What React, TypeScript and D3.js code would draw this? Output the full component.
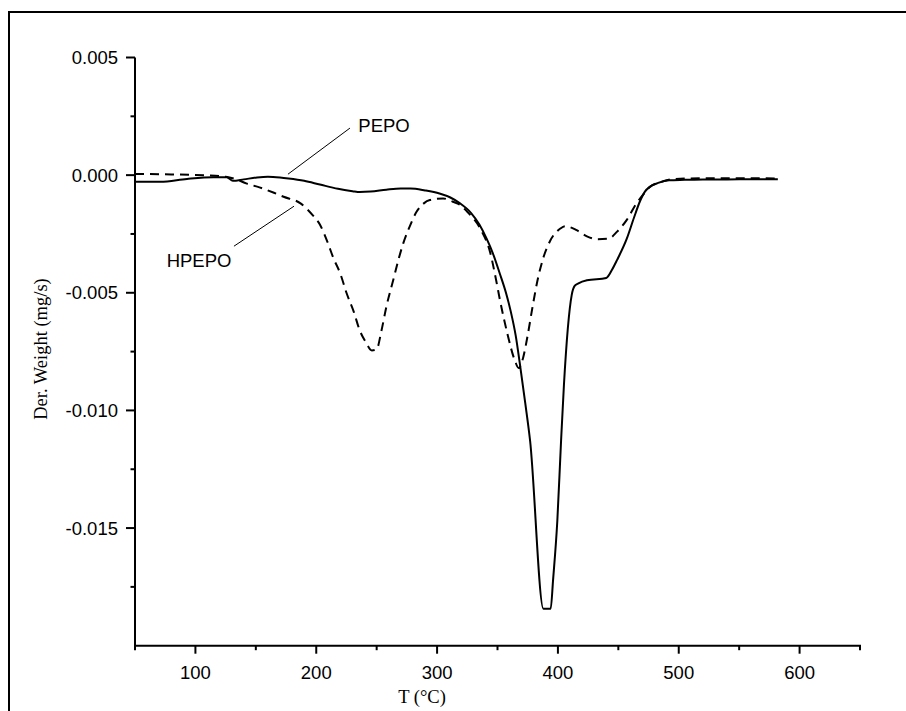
import React from "react";
import * as d3 from "d3";

// PEPO (solid) — temperature (°C) and derivative weight (mg/s)
const pepoT = [50, 71, 93, 115, 126, 131, 140, 151, 160, 170, 177, 190, 203, 218, 230, 236, 245, 258, 270, 278, 290, 302, 311, 319, 328, 335, 341, 346, 352, 357, 361, 365, 369, 373, 377, 388, 394, 396, 399.5, 402.6, 405, 411.4, 414, 417, 424, 440, 445, 449, 457, 463, 468, 472, 476, 483, 492, 505, 520, 540, 560, 582];
const pepoV = [-0.00028, -0.00028, -0.00016, -0.00009, -0.00009, -0.00024, -0.00018, -0.0001, -0.00007, -0.0001, -0.00014, -0.00024, -0.0004, -0.00058, -0.00068, -0.00072, -0.0007, -0.00062, -0.00057, -0.00057, -0.00065, -0.00078, -0.00095, -0.0012, -0.0016, -0.0021, -0.0027, -0.0033, -0.0042, -0.005, -0.0058, -0.0068, -0.0082, -0.0097, -0.0113, -0.01843, -0.01843, -0.0172, -0.0147, -0.0113, -0.0089, -0.0051, -0.0047, -0.0046, -0.00447, -0.00437, -0.004, -0.0036, -0.0027, -0.0018, -0.0011, -0.0007, -0.0005, -0.00033, -0.00022, -0.0002, -0.00018, -0.00018, -0.00017, -0.00017];

// HPEPO (dashed)
const hpepoT = [50, 80, 110, 125, 135, 142, 153, 165, 173, 187, 197, 203, 209, 214, 220, 225, 231, 236, 241, 246, 250, 254, 258, 264, 268, 272, 278, 283, 289, 294, 305, 313, 320, 325, 336, 344, 349, 352, 358, 364.5, 367.5, 371, 375, 379, 383, 388, 393.5, 402, 406, 415.5, 424, 432, 442, 449, 457, 465, 471, 476, 485, 493, 510, 540, 560, 582];
const hpepoV = [0.00005, 0.00003, -0.00001, -0.00007, -0.0002, -0.00035, -0.00052, -0.00075, -0.00092, -0.0012, -0.0017, -0.0021, -0.0028, -0.0035, -0.0042, -0.005, -0.0058, -0.0066, -0.0071, -0.00745, -0.0074, -0.0066, -0.0056, -0.0044, -0.0036, -0.0029, -0.0021, -0.00156, -0.0012, -0.00106, -0.00099, -0.00113, -0.0013, -0.00156, -0.0023, -0.0033, -0.0045, -0.0053, -0.0067, -0.0079, -0.0082, -0.0078, -0.0068, -0.0056, -0.0045, -0.0035, -0.0028, -0.00227, -0.00217, -0.00234, -0.0026, -0.00272, -0.0027, -0.0024, -0.0019, -0.0012, -0.0008, -0.0005, -0.0003, -0.00018, -0.00014, -0.00013, -0.00013, -0.00014];

const xMajorTicks = [100, 200, 300, 400, 500, 600];
const xMinorTicks = [50, 150, 250, 350, 450, 550, 650];
const yMajorTicks = [0.005, 0.0, -0.005, -0.01, -0.015];
const yMinorTicks = [0.0025, -0.0025, -0.0075, -0.0125, -0.0175];
const yTickLabels = ["0.005", "0.000", "-0.005", "-0.010", "-0.015"];

// annotations in data coordinates
const annotLabels = ["PEPO", "HPEPO"];
const annotText = [[234.8, 0.00185], [76.2, -0.0039]];
const annotLines = [[176.6, 0.00004, 227.9, 0.002], [181.6, -0.00132, 131.9, -0.00302]];

const W = 906;
const H = 711;

export default function App() {
  const x = d3.scaleLinear().domain([50, 650]).range([135, 860]);
  const y = d3.scaleLinear().domain([-0.02, 0.005]).range([645.7, 57.5]);

  const line = d3
    .line<[number, number]>()
    .x((d) => x(d[0]))
    .y((d) => y(d[1]))
    .curve(d3.curveMonotoneX);

  const pepo = pepoT.map((t, i) => [t, pepoV[i]] as [number, number]);
  const hpepo = hpepoT.map((t, i) => [t, hpepoV[i]] as [number, number]);

  const sans = "'Liberation Sans', Arial, sans-serif";
  const serif = "'Liberation Serif', 'Times New Roman', serif";
  const x0 = x(50);
  const yb = y(-0.02);

  return (
    <svg
      width={W}
      height={H}
      style={{ position: "absolute", left: 0, top: 0, background: "#fff" }}
    >
      <rect x={0} y={0} width={W} height={H} fill="#fff" />
      <rect x={9} y={12} width={W + 20} height={H + 20} fill="none" stroke="#000" strokeWidth={2} />

      <line x1={x0} x2={x0} y1={y(0.005)} y2={yb + 1} stroke="#000" strokeWidth={2} />
      <line x1={x0 - 1} x2={x(650) + 1} y1={yb} y2={yb} stroke="#000" strokeWidth={2} />

      {yMajorTicks.map((v, i) => (
        <g key={"ym" + i}>
          <line x1={x0 - 9} x2={x0} y1={y(v)} y2={y(v)} stroke="#000" strokeWidth={2} />
          <text
            x={x0 - 17}
            y={y(v)}
            textAnchor="end"
            dominantBaseline="central"
            fontFamily={sans}
            fontSize={18.5}
          >
            {yTickLabels[i]}
          </text>
        </g>
      ))}
      {yMinorTicks.map((v, i) => (
        <line key={"yn" + i} x1={x0 - 4.5} x2={x0} y1={y(v)} y2={y(v)} stroke="#000" strokeWidth={2} />
      ))}
      {xMajorTicks.map((t, i) => (
        <g key={"xm" + i}>
          <line x1={x(t)} x2={x(t)} y1={yb} y2={yb + 8} stroke="#000" strokeWidth={2} />
          <text x={x(t)} y={678.5} textAnchor="middle" fontFamily={sans} fontSize={18.5}>
            {String(t)}
          </text>
        </g>
      ))}
      {xMinorTicks.map((t, i) => (
        <line key={"xn" + i} x1={x(t)} x2={x(t)} y1={yb} y2={yb + 4.5} stroke="#000" strokeWidth={2} />
      ))}

      <text
        transform={`translate(47,349) rotate(-90)`}
        textAnchor="middle"
        fontFamily={serif}
        fontSize={18.5}
      >
        Der. Weight (mg/s)
      </text>
      <text x={422} y={703} textAnchor="middle" fontFamily={serif} fontSize={18.5}>
        T (°C)
      </text>

      <path d={line(hpepo) || ""} fill="none" stroke="#000" strokeWidth={2} strokeDasharray="9,6" />
      <path d={line(pepo) || ""} fill="none" stroke="#000" strokeWidth={2} />

      {annotLabels.map((lab, i) => (
        <g key={"an" + i}>
          <line
            x1={x(annotLines[i][0])}
            y1={y(annotLines[i][1])}
            x2={x(annotLines[i][2])}
            y2={y(annotLines[i][3])}
            stroke="#000"
            strokeWidth={1}
          />
          <text x={x(annotText[i][0])} y={y(annotText[i][1])} fontFamily={sans} fontSize={18.5}>
            {lab}
          </text>
        </g>
      ))}
    </svg>
  );
}
